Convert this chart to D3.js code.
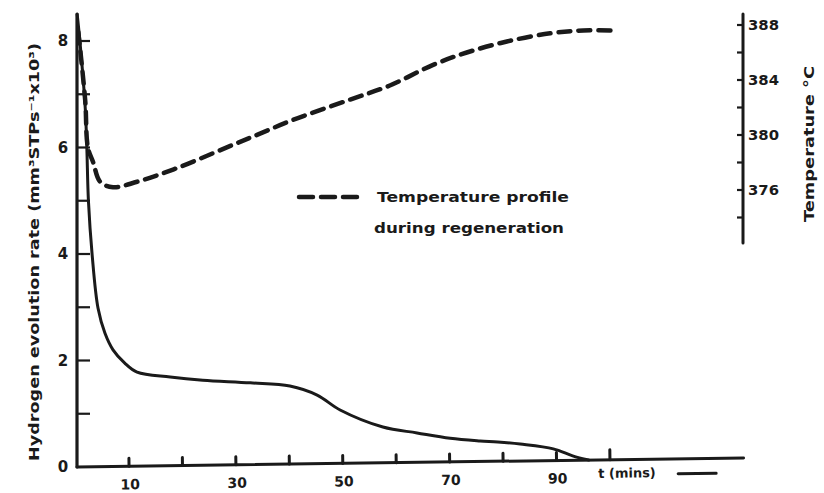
<!DOCTYPE html>
<html>
<head>
<meta charset="utf-8">
<script src="https://cdn.jsdelivr.net/npm/d3@7"></script>
<style>
  html, body { margin: 0; padding: 0; background: #fff; }
  svg text { font-family: "DejaVu Sans", sans-serif; font-weight: bold; fill: #1a1a1a; }
</style>
</head>
<body>
<svg id="chart" width="824" height="493"></svg>
<script>
// ---- data ----
const rateTime = [0.3, 0.8, 1.8, 2.1, 2.4, 3.1, 4.2, 5.5, 7.0, 9.2, 11.5, 17.7, 23.8, 32.7, 40.1, 45.2, 49.5, 57.5, 63.9, 70.1, 75.7, 79.0, 83.2, 89.4, 93.0, 96.0];
const rateValue = [8.5, 8.0, 6.75, 6.0, 5.0, 3.98, 2.98, 2.51, 2.2, 1.95, 1.78, 1.69, 1.63, 1.58, 1.52, 1.35, 1.07, 0.75, 0.64, 0.54, 0.49, 0.47, 0.43, 0.34, 0.21, 0.13];
const tempTime = [0.5, 1.8, 2.3, 3.3, 4.6, 7.0, 11.5, 19.0, 28.3, 34.5, 40.7, 50.8, 58.8, 66.9, 73.2, 80.7, 88.8, 95.0, 101.3];
const tempValue = [387.5, 382.5, 379.1, 378.0, 376.6, 376.2, 376.6, 377.6, 379.1, 380.1, 381.1, 382.5, 383.6, 385.1, 386.0, 386.8, 387.4, 387.6, 387.6];
const xTicks = [10, 20, 30, 40, 50, 60, 70, 80, 90, 100];
const xTickLabels = [10, 30, 50, 70, 90];
const yLeftTicks = [1, 2, 3, 4, 5, 6, 7, 8];
const yLeftLabels = [0, 2, 4, 6, 8];
const yRightTicks = [374, 376, 378, 380, 382, 384, 386, 388];
const yRightLabels = [376, 380, 384, 388];
const leftTitle = "Hydrogen evolution rate (mm³STPs⁻¹x10³)";
const rightTitle = "Temperature °C";
const xTitle = "t (mins)";
const legendText = ["Temperature profile", "during regeneration"];

// ---- scales ----
const svg = d3.select("#chart");
const ink = "#1a1a1a";
const x = d3.scaleLinear().domain([0, 100]).range([75.6, 610]);
const yL = d3.scaleLinear().domain([0, 8]).range([467, 41]);
const yR = d3.scaleLinear().domain([376, 388]).range([190, 25]);
const x0 = 77, yBase = 467;

// ---- bottom axis (slightly tilted, as drawn) ----
const gx = svg.append("g").attr("transform", `rotate(-0.78, ${x0}, ${yBase})`);
gx.append("line").attr("x1", x0).attr("x2", x(125)).attr("y1", yBase).attr("y2", yBase)
  .attr("stroke", ink).attr("stroke-width", 3).attr("stroke-linecap", "round");
gx.selectAll("line.tk").data(xTicks).join("line").attr("class", "tk")
  .attr("x1", d => x(d)).attr("x2", d => x(d))
  .attr("y1", yBase).attr("y2", d => d === 100 ? yBase - 10 : yBase - 8)
  .attr("stroke", ink).attr("stroke-width", 3).attr("stroke-linecap", "round");
gx.selectAll("text.tl").data(xTickLabels).join("text").attr("class", "tl")
  .attr("x", d => x(d) + 1).attr("y", yBase + 23).attr("text-anchor", "middle")
  .attr("font-size", 14).text(d => d);
gx.append("text").attr("x", x(100) - 12).attr("y", yBase + 18).attr("font-size", 13)
  .text(xTitle);
gx.append("line").attr("x1", x(100) + 68).attr("x2", x(100) + 106)
  .attr("y1", yBase + 15).attr("y2", yBase + 15)
  .attr("stroke", ink).attr("stroke-width", 3).attr("stroke-linecap", "round");

// ---- left axis ----
svg.append("line").attr("x1", x0).attr("x2", x0).attr("y1", 14).attr("y2", yBase)
  .attr("stroke", ink).attr("stroke-width", 3.2).attr("stroke-linecap", "round");
svg.selectAll("line.ltk").data(yLeftTicks).join("line").attr("class", "ltk")
  .attr("x1", x0).attr("x2", x0 + 13).attr("y1", d => yL(d)).attr("y2", d => yL(d))
  .attr("stroke", ink).attr("stroke-width", 2.2);
svg.selectAll("text.ll").data(yLeftLabels).join("text").attr("class", "ll")
  .attr("x", 63).attr("y", d => yL(d) + 5).attr("text-anchor", "middle")
  .attr("font-size", 15).text(d => d);
svg.append("text").attr("transform", "translate(39, 252) rotate(-90)")
  .attr("text-anchor", "middle").attr("font-size", 14.5)
  .attr("textLength", 418).attr("lengthAdjust", "spacingAndGlyphs").text(leftTitle);

// ---- right axis ----
const xr = 743;
svg.append("line").attr("x1", xr).attr("x2", xr).attr("y1", 14).attr("y2", 243)
  .attr("stroke", ink).attr("stroke-width", 3).attr("stroke-linecap", "round");
svg.selectAll("line.rtk").data(yRightTicks).join("line").attr("class", "rtk")
  .attr("x1", xr - 6).attr("x2", xr).attr("y1", d => yR(d)).attr("y2", d => yR(d))
  .attr("stroke", ink).attr("stroke-width", 2.2);
svg.selectAll("text.rl").data(yRightLabels).join("text").attr("class", "rl")
  .attr("x", xr + 5).attr("y", d => yR(d) + 5)
  .attr("font-size", 14).attr("textLength", 31).attr("lengthAdjust", "spacingAndGlyphs").text(d => d);
svg.append("text").attr("transform", "translate(814, 144) rotate(-90)")
  .attr("text-anchor", "middle").attr("font-size", 14)
  .attr("textLength", 156).attr("lengthAdjust", "spacingAndGlyphs").text(rightTitle);

// ---- curves ----
const rateLine = d3.line().x(d => x(d[0])).y(d => yL(d[1])).curve(d3.curveCatmullRom.alpha(0.5));
svg.append("path").datum(rateTime.map((t, i) => [t, rateValue[i]]))
  .attr("d", rateLine).attr("fill", "none").attr("stroke", ink)
  .attr("stroke-width", 3).attr("stroke-linecap", "round");

const tempLine = d3.line().x(d => x(d[0])).y(d => yR(d[1])).curve(d3.curveCatmullRom.alpha(0.5));
svg.append("path").datum(tempTime.map((t, i) => [t, tempValue[i]]))
  .attr("d", tempLine).attr("fill", "none").attr("stroke", ink)
  .attr("stroke-width", 4.5).attr("stroke-linecap", "round")
  .attr("stroke-dasharray", "12 8");

// ---- legend ----
svg.append("line").attr("x1", 299).attr("x2", 362).attr("y1", 197).attr("y2", 197)
  .attr("stroke", ink).attr("stroke-width", 4.5).attr("stroke-linecap", "round")
  .attr("stroke-dasharray", "14 8");
svg.append("text").attr("x", 377).attr("y", 202).attr("font-size", 14.5)
  .attr("textLength", 192).attr("lengthAdjust", "spacingAndGlyphs").text(legendText[0]);
svg.append("text").attr("x", 374).attr("y", 233).attr("font-size", 14.5)
  .attr("textLength", 190).attr("lengthAdjust", "spacingAndGlyphs").text(legendText[1]);
</script>
</body>
</html>
